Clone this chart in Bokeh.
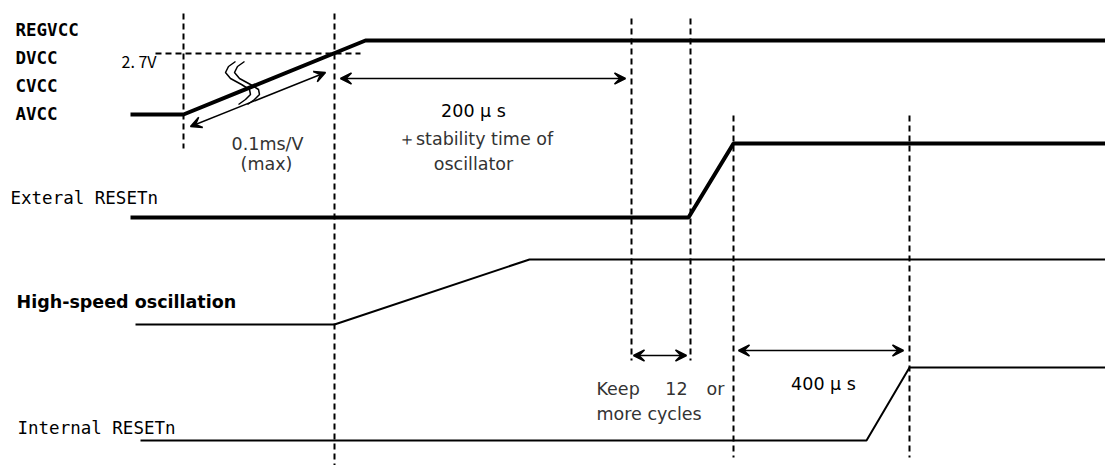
from bokeh.plotting import figure
from bokeh.models import Range1d, Arrow, VeeHead
from bokeh.core.properties import value
from bokeh.embed import file_html
from bokeh.resources import INLINE

# ---- data (time axis in diagram units, level axis in diagram units) ----
# power supply (REGVCC / DVCC / CVCC / AVCC)
vcc_t = [130, 183, 365, 1112]
vcc_y = [114, 114, 40, 40]
# external reset
ext_t = [130, 688, 733, 1115]
ext_y = [217, 217, 143, 143]
# high-speed oscillation
osc_t = [135, 334, 529, 1115]
osc_y = [324, 324, 259, 259]
# internal reset
int_t = [140, 866, 909, 1115]
int_y = [440, 440, 367, 367]

# vertical timing markers
mark_t = [183, 334, 631, 690, 733, 909]
mark_top = [13, 13, 18, 18, 115, 115]
mark_bot = [148, 475, 360, 360, 457, 457]

# 2.7V threshold
thr_level = 53
thr_t = [155, 360]

# dimension arrows
dim_x0 = [190, 340, 633, 738]
dim_y0 = [126, 78, 355, 350]
dim_x1 = [325, 625, 686, 903]
dim_y1 = [72, 78, 355, 350]

# break mark on the supply ramp
brk_y = [61, 66, 72, 78, 84, 89, 94, 99, 104]
brk1_x = [235, 228, 225, 230, 241, 249, 250, 245, 238]
brk2_x = [244, 237, 234, 239, 250, 258, 259, 254, 247]

# signal names
sig_bold_names = ["REGVCC", "DVCC", "CVCC", "AVCC"]
sig_bold_x = [15, 15, 15, 15]
sig_bold_y = [29, 57, 85, 113]
sig_names = ["Exteral RESETn", "Internal RESETn"]
sig_x = [10, 17]
sig_y = [197, 427]

W, H = 1105, 465
p = figure(width=W, height=H,
           x_range=Range1d(0, W), y_range=Range1d(H, 0),
           output_backend="svg", toolbar_location=None,
           x_axis_location=None, y_axis_location=None, min_border=0)
p.grid.visible = False
p.outline_line_color = None
p.background_fill_color = "white"
p.border_fill_color = "white"

# markers
p.segment(x0=mark_t, y0=mark_top, x1=mark_t, y1=mark_bot,
          line_color="black", line_width=2, line_dash="6 4")
p.line(thr_t, [thr_level, thr_level], line_color="black", line_width=2, line_dash="6 4")

# signals
p.line(vcc_t, vcc_y, line_color="black", line_width=4)
p.line(ext_t, ext_y, line_color="black", line_width=4)
p.line(osc_t, osc_y, line_color="black", line_width=2)
p.line(int_t, int_y, line_color="black", line_width=2)

# break mark
p.line(brk1_x, brk_y, line_color="black", line_width=1.5)
p.line(brk2_x, brk_y, line_color="black", line_width=1.5)

# arrows
for x0, y0, x1, y1 in zip(dim_x0, dim_y0, dim_x1, dim_y1):
    p.add_layout(Arrow(x_start=x0, y_start=y0, x_end=x1, y_end=y1,
                       line_color="black", line_width=1.5,
                       start=VeeHead(size=11, fill_color="black", line_color="black", line_width=1.5),
                       end=VeeHead(size=11, fill_color="black", line_color="black", line_width=1.5)))

mono = value("DejaVu Sans Mono")
sans = value("DejaVu Sans")

p.text(x=sig_bold_x, y=sig_bold_y, text=sig_bold_names, text_font=mono,
       text_font_style="bold", text_font_size="17.5px", text_color="black",
       text_baseline="alphabetic", text_align="left")
p.text(x=sig_x, y=sig_y, text=sig_names, text_font=mono,
       text_font_size="17.5px", text_color="black",
       text_baseline="alphabetic", text_align="left")
p.text(x=[16], y=[301], text=["High-speed oscillation"], text_font=sans,
       text_font_style="bold", text_font_size="17.5px", text_color="black",
       text_baseline="alphabetic", text_align="left")

p.text(x=[156], y=[60], text=["2. 7V"], text_font=value("Noto Sans CJK JP"),
       text_font_size="16px", text_color="black",
       text_baseline="alphabetic", text_align="right")

ann_x = [267, 266, 473, 475, 473, 823]
ann_y = [143, 163, 110, 138, 163, 383]
ann_t = ["0.1ms/V", "(max)", "200 μ s", "＋stability time of", "oscillator", "400 μ s"]
ann_c = ["#333333", "#333333", "black", "#333333", "#333333", "black"]
p.text(x=ann_x, y=ann_y, text=ann_t, text_color=ann_c, text_font=sans,
       text_font_size="17.5px", text_baseline="alphabetic", text_align="center")

p.text(x=[596, 676, 724, 596], y=[388, 388, 388, 413],
       text=["Keep", "12", "or", "more cycles"],
       text_align=["left", "center", "right", "left"],
       text_color="#333333", text_font=sans, text_font_size="17.5px",
       text_baseline="alphabetic")

open("out.html", "w").write(file_html(p, INLINE))
